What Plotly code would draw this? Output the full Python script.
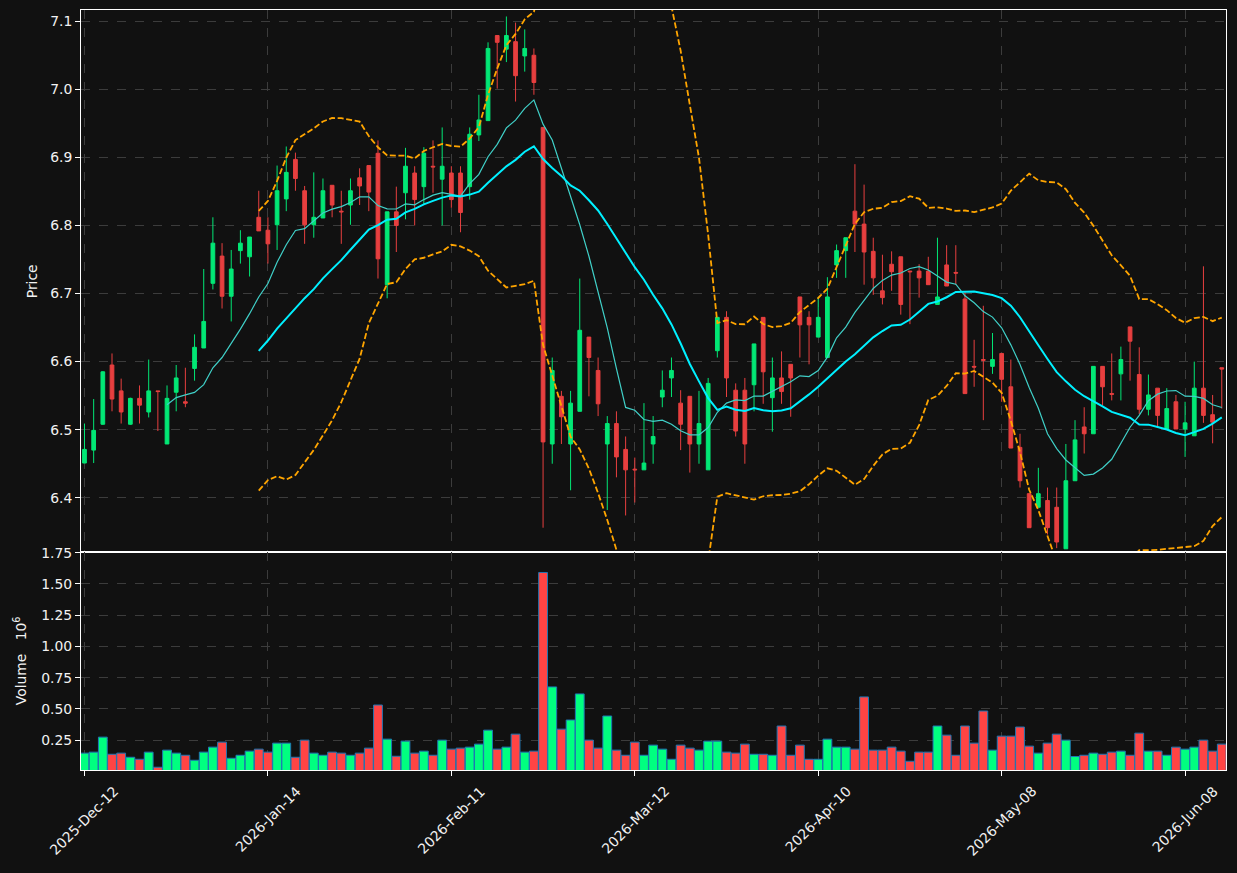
import pandas as pd
import plotly.graph_objects as go

# ---------------- data ----------------
tick_positions = [0, 20, 40, 60, 80, 100, 120]
tick_labels = ["2025-Dec-12", "2026-Jan-14", "2026-Feb-11", "2026-Mar-12",
               "2026-Apr-10", "2026-May-08", "2026-Jun-08"]

opens = [6.451, 6.470, 6.508, 6.595, 6.557, 6.508, 6.546, 6.526, 6.557, 6.479,
         6.555, 6.541, 6.590, 6.620, 6.715, 6.755, 6.696, 6.763, 6.754, 6.812,
         6.793, 6.801, 6.839, 6.897, 6.851, 6.801, 6.811, 6.859, 6.821, 6.830,
         6.870, 6.888, 6.906, 6.713, 6.820, 6.848, 6.877, 6.857, 6.887, 6.868,
         6.877, 6.877, 6.857, 6.933, 6.954, 7.079, 7.059, 7.070, 7.049, 7.050,
         6.944, 6.479, 6.549, 6.479, 6.527, 6.636, 6.587, 6.479, 6.509, 6.471,
         6.442, 6.441, 6.479, 6.548, 6.576, 6.539, 6.549, 6.479, 6.441, 6.616,
         6.665, 6.558, 6.558, 6.566, 6.665, 6.547, 6.576, 6.596, 6.695, 6.665,
         6.636, 6.606, 6.742, 6.763, 6.821, 6.802, 6.762, 6.704, 6.743, 6.754,
         6.733, 6.733, 6.733, 6.684, 6.742, 6.731, 6.692, 6.593, 6.603, 6.593,
         6.612, 6.563, 6.474, 6.406, 6.386, 6.396, 6.386, 6.325, 6.425, 6.504,
         6.494, 6.593, 6.553, 6.582, 6.651, 6.581, 6.530, 6.561, 6.501, 6.541,
         6.501, 6.491, 6.561, 6.522, 6.591]

highs = [6.509, 6.545, 6.586, 6.612, 6.575, 6.547, 6.565, 6.603, 6.557, 6.565,
         6.595, 6.591, 6.640, 6.736, 6.812, 6.774, 6.764, 6.793, 6.783, 6.851,
         6.812, 6.888, 6.916, 6.907, 6.858, 6.878, 6.869, 6.859, 6.851, 6.869,
         6.884, 6.888, 6.925, 6.820, 6.857, 6.914, 6.887, 6.915, 6.925, 6.944,
         6.887, 6.887, 6.944, 6.992, 7.069, 7.079, 7.107, 7.098, 7.088, 7.060,
         6.944, 6.606, 6.557, 6.557, 6.722, 6.636, 6.606, 6.520, 6.527, 6.490,
         6.459, 6.539, 6.520, 6.587, 6.606, 6.558, 6.549, 6.557, 6.576, 6.665,
         6.674, 6.568, 6.576, 6.626, 6.665, 6.606, 6.615, 6.596, 6.695, 6.674,
         6.695, 6.724, 6.772, 6.782, 6.890, 6.860, 6.782, 6.757, 6.762, 6.754,
         6.733, 6.743, 6.754, 6.782, 6.771, 6.771, 6.702, 6.632, 6.682, 6.642,
         6.612, 6.603, 6.494, 6.406, 6.444, 6.415, 6.415, 6.479, 6.514, 6.533,
         6.593, 6.593, 6.612, 6.622, 6.651, 6.621, 6.581, 6.561, 6.561, 6.551,
         6.541, 6.600, 6.740, 6.551, 6.591]

lows = [6.451, 6.451, 6.507, 6.527, 6.509, 6.507, 6.509, 6.518, 6.498, 6.479,
        6.527, 6.533, 6.572, 6.620, 6.706, 6.678, 6.659, 6.744, 6.725, 6.792,
        6.744, 6.764, 6.821, 6.851, 6.773, 6.782, 6.811, 6.812, 6.773, 6.801,
        6.830, 6.821, 6.722, 6.693, 6.761, 6.809, 6.800, 6.831, 6.848, 6.800,
        6.826, 6.790, 6.838, 6.924, 6.954, 7.001, 7.040, 6.982, 7.026, 6.992,
        6.356, 6.450, 6.479, 6.411, 6.527, 6.549, 6.520, 6.382, 6.430, 6.374,
        6.393, 6.441, 6.450, 6.533, 6.548, 6.470, 6.437, 6.450, 6.441, 6.606,
        6.548, 6.490, 6.450, 6.527, 6.538, 6.497, 6.538, 6.519, 6.606, 6.596,
        6.636, 6.606, 6.723, 6.723, 6.761, 6.713, 6.698, 6.684, 6.704, 6.669,
        6.655, 6.694, 6.713, 6.684, 6.711, 6.713, 6.553, 6.563, 6.514, 6.582,
        6.541, 6.473, 6.415, 6.356, 6.386, 6.346, 6.326, 6.325, 6.425, 6.465,
        6.494, 6.536, 6.543, 6.543, 6.572, 6.523, 6.521, 6.503, 6.501, 6.501,
        6.460, 6.491, 6.510, 6.480, 6.531]

closes = [6.471, 6.499, 6.585, 6.545, 6.526, 6.546, 6.536, 6.557, 6.556, 6.546,
          6.576, 6.539, 6.621, 6.659, 6.774, 6.696, 6.736, 6.774, 6.783, 6.792,
          6.773, 6.851, 6.878, 6.869, 6.801, 6.812, 6.851, 6.830, 6.820, 6.851,
          6.858, 6.849, 6.751, 6.820, 6.800, 6.887, 6.838, 6.906, 6.886, 6.887,
          6.838, 6.819, 6.934, 6.955, 7.060, 7.069, 7.079, 7.020, 7.060, 7.010,
          6.482, 6.587, 6.519, 6.539, 6.646, 6.606, 6.538, 6.509, 6.460, 6.441,
          6.441, 6.451, 6.490, 6.558, 6.587, 6.508, 6.479, 6.509, 6.568, 6.665,
          6.576, 6.498, 6.479, 6.626, 6.585, 6.576, 6.556, 6.576, 6.654, 6.654,
          6.665, 6.695, 6.763, 6.782, 6.802, 6.761, 6.723, 6.694, 6.732, 6.684,
          6.732, 6.723, 6.713, 6.695, 6.711, 6.730, 6.553, 6.592, 6.602, 6.603,
          6.574, 6.473, 6.425, 6.356, 6.406, 6.356, 6.335, 6.425, 6.485, 6.494,
          6.593, 6.563, 6.552, 6.603, 6.630, 6.530, 6.551, 6.521, 6.531, 6.501,
          6.510, 6.561, 6.521, 6.511, 6.589]

# volume in millions
volumes = [0.146, 0.154, 0.274, 0.137, 0.146, 0.113, 0.097, 0.154, 0.033, 0.170,
           0.146, 0.129, 0.089, 0.154, 0.194, 0.234, 0.105, 0.129, 0.162, 0.178,
           0.154, 0.226, 0.226, 0.113, 0.250, 0.146, 0.129, 0.154, 0.146, 0.129,
           0.146, 0.186, 0.531, 0.258, 0.121, 0.242, 0.146, 0.162, 0.129, 0.250,
           0.178, 0.186, 0.194, 0.218, 0.330, 0.178, 0.194, 0.298, 0.154, 0.162,
           1.592, 0.676, 0.338, 0.411, 0.620, 0.250, 0.186, 0.443, 0.170, 0.129,
           0.234, 0.129, 0.210, 0.178, 0.097, 0.210, 0.186, 0.170, 0.242, 0.242,
           0.154, 0.146, 0.218, 0.137, 0.137, 0.129, 0.363, 0.129, 0.210, 0.097,
           0.097, 0.258, 0.194, 0.194, 0.178, 0.596, 0.170, 0.170, 0.194, 0.162,
           0.081, 0.154, 0.154, 0.363, 0.290, 0.129, 0.363, 0.226, 0.483, 0.170,
           0.282, 0.282, 0.355, 0.202, 0.146, 0.226, 0.298, 0.250, 0.119, 0.129,
           0.146, 0.137, 0.154, 0.162, 0.129, 0.306, 0.162, 0.162, 0.129, 0.194,
           0.178, 0.194, 0.250, 0.162, 0.218]

# ---------------- derived indicators (as in the original) ----------------
idx = list(range(len(closes)))
cs = pd.Series(closes)
ma10 = cs.rolling(10).mean()
ma20 = cs.rolling(20).mean()
sd20 = cs.rolling(20).std(ddof=0)
bb_up = ma20 + 2 * sd20
bb_lo = ma20 - 2 * sd20

# ---------------- styling ----------------
BG = "#111111"
GRID = "#3c3c3c"
TXT = "#f2f2f2"
FONT = "DejaVu Sans"
UP_C = "#02e775"
DN_C = "#e73f3f"
VUP_C = "#00ff80"
VDN_C = "#ff4444"

vol_colors = [VUP_C if c >= o else VDN_C for o, c in zip(opens, closes)]

fig = go.Figure()

fig.add_trace(go.Candlestick(
    x=idx, open=opens, high=highs, low=lows, close=closes,
    xaxis="x", yaxis="y",
    increasing=dict(line=dict(color=UP_C, width=1), fillcolor=UP_C),
    decreasing=dict(line=dict(color=DN_C, width=1), fillcolor=DN_C),
    whiskerwidth=0, showlegend=False, hoverinfo="skip"))

for series, color, width, dash in [
        (bb_up, "#ffa500", 1.8, "6px,2.6px"),
        (bb_lo, "#ffa500", 1.8, "6px,2.6px"),
        (ma10, "#40d0c8", 1.2, "solid"),
        (ma20, "#00f0ff", 2.0, "solid")]:
    fig.add_trace(go.Scatter(
        x=idx, y=series, mode="lines", xaxis="x", yaxis="y",
        line=dict(color=color, width=width, dash=dash),
        showlegend=False, hoverinfo="skip"))

fig.add_trace(go.Bar(
    x=idx, y=volumes, xaxis="x2", yaxis="y2", width=0.96,
    marker=dict(color=vol_colors, line=dict(color="#1f77b4", width=1)),
    showlegend=False, hoverinfo="skip"))

XR = [-0.38, 124.46]
SPLIT = 0.2862

common_x = dict(range=XR, tickmode="array", tickvals=tick_positions,
                showgrid=True, gridcolor=GRID, griddash="dash", gridwidth=0.8,
                showline=True, linecolor="white", linewidth=1, mirror=True,
                zeroline=False, fixedrange=True, automargin=False)
common_y = dict(showgrid=True, gridcolor=GRID, griddash="dash", gridwidth=0.8,
                showline=True, linecolor="white", linewidth=1, mirror=True,
                zeroline=False, ticks="outside", ticklen=5, tickcolor="white",
                automargin=False,
                tickfont=dict(family=FONT, size=13.9, color=TXT))

fig.update_layout(
    width=1237, height=873,
    margin=dict(l=81, r=11, t=10, b=103, autoexpand=False),
    paper_bgcolor=BG, plot_bgcolor=BG,
    font=dict(family=FONT, size=13.9, color=TXT),
    showlegend=False, boxgap=0.42,
    xaxis=dict(domain=[0, 1], anchor="y", showticklabels=False,
               rangeslider=dict(visible=False), **common_x),
    yaxis=dict(domain=[SPLIT, 1], anchor="x", range=[6.3196, 7.1165],
               tick0=6.4, dtick=0.1, tickformat=".1f", **common_y),
    xaxis2=dict(domain=[0, 1], anchor="y2", showticklabels=False,
                ticks="outside", ticklen=5, tickcolor="white", **common_x),
    yaxis2=dict(domain=[0, SPLIT], anchor="x2", range=[0.011, 1.752],
                tickmode="array", tickvals=[0.25, 0.5, 0.75, 1.0, 1.25, 1.5, 1.75],
                tickformat=".2f", **common_y),
)

ann = []
for pos, lab in zip(tick_positions, tick_labels):
    ann.append(dict(x=pos, xref="x2", y=0, yref="paper", text=lab,
                    textangle=-45, xanchor="center", yanchor="top",
                    yshift=-10, showarrow=False,
                    font=dict(family=FONT, size=13.9, color=TXT)))
ann.append(dict(x=0, xref="paper", y=(SPLIT + 1) / 2, yref="paper",
                text="Price", textangle=-90, xanchor="center", yanchor="middle",
                xshift=-49, showarrow=False,
                font=dict(family=FONT, size=13.9, color=TXT)))
ann.append(dict(x=0, xref="paper", y=SPLIT / 2, yref="paper",
                text="Volume\u00a0\u00a0\u00a010<sup>6</sup>", textangle=-90,
                xanchor="center", yanchor="middle",
                xshift=-61, showarrow=False,
                font=dict(family=FONT, size=13.9, color=TXT)))
fig.update_layout(annotations=ann)

fig.write_html("out.html")
